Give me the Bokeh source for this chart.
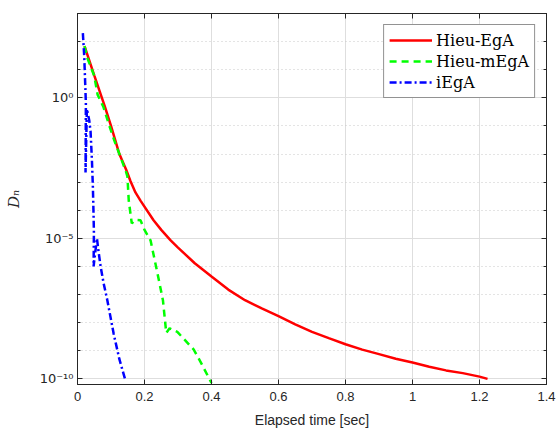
from bokeh.plotting import figure
from bokeh.models import (FixedTicker, LinearAxis, LogAxis, Legend, LegendItem, Range1d)
from bokeh.embed import file_html
from bokeh.resources import INLINE

# ---- data ----
red_t = [0.021, 0.05, 0.081, 0.10, 0.125, 0.145, 0.158, 0.173, 0.188, 0.227, 0.25, 0.278,
         0.30, 0.35, 0.40, 0.45, 0.50, 0.55, 0.60, 0.65, 0.70, 0.75, 0.80, 0.85, 0.90,
         0.95, 1.00, 1.05, 1.10, 1.15, 1.20, 1.224]
red_y = [6.9e1, 6.3, 5.2e-1, 1.0e-1, 1.0e-2, 2.8e-3, 1.1e-3, 4.3e-4, 2.2e-4, 4.4e-5, 2.0e-5, 8.5e-6,
         4.7e-6, 1.3e-6, 4.4e-7, 1.5e-7, 6.3e-8, 3.2e-8, 1.7e-8, 8.7e-9, 4.7e-9, 2.8e-9, 1.7e-9, 1.1e-9, 7.6e-10,
         5.2e-10, 3.8e-10, 2.7e-10, 2.0e-10, 1.6e-10, 1.2e-10, 1.0e-10]

green_t = [0.021, 0.03, 0.05, 0.06, 0.078, 0.093, 0.11, 0.125, 0.144, 0.149, 0.153, 0.162, 0.172,
           0.188, 0.20, 0.218, 0.238, 0.255, 0.265, 0.275, 0.298, 0.347, 0.37, 0.40]
green_y = [6.9e1, 2.5e1, 6.0, 1.3, 4.5e-1, 1.2e-1, 3.0e-2, 1.0e-2, 2.5e-3, 1.6e-3, 2.2e-4, 3.4e-5, 4.5e-5,
           4.4e-5, 2.0e-5, 8.5e-6, 6.3e-7, 6.3e-8, 4.3e-9, 6.3e-9, 4.7e-9, 1.1e-9, 3.5e-10, 7.1e-11]

blue_t = [0.016, 0.020, 0.023, 0.025, 0.024, 0.028, 0.035, 0.039, 0.043, 0.046, 0.048, 0.049, 0.048,
          0.058, 0.062, 0.069, 0.078, 0.089, 0.108, 0.125, 0.143]
blue_y = [2.0e2, 3.2e1, 3.2, 6.3e-1, 2.2e-3, 4.0e-1, 1.6e-1, 6.3e-2, 6.3e-3, 6.3e-4, 6.3e-5, 1.6e-5, 1.0e-6,
          1.0e-5, 4.0e-6, 1.0e-6, 2.5e-7, 6.3e-8, 4.0e-9, 5.0e-10, 8.9e-11]

series_names = ["Hieu-EgA", "Hieu-mEgA", "iEgA"]
x_ticks = [0, 0.2, 0.4, 0.6, 0.8, 1.0, 1.2, 1.4]
x_tick_labels = ["0", "0.2", "0.4", "0.6", "0.8", "1", "1.2", "1.4"]
y_ticks = [1e-10, 1e-5, 1e0]
y_tick_labels = ["10\u207b\u00b9\u2070", "10\u207b\u2075", "10\u2070"]
y_minor = [10.0 ** k for k in range(-10, 4)]

AX = "#262626"

p = figure(width=558, height=432, y_axis_type="log",
           x_range=Range1d(0, 1.4), y_range=Range1d(6.3e-11, 1e3),
           output_backend="svg", toolbar_location=None,
           min_border_left=77, min_border_right=12, min_border_top=13, min_border_bottom=48)
p.background_fill_color = "white"
p.border_fill_color = "white"
p.outline_line_color = AX
p.outline_line_width = 1

xt = FixedTicker(ticks=x_ticks, minor_ticks=[])
yt = FixedTicker(ticks=y_ticks, minor_ticks=y_minor)

xa = p.xaxis[0]
xa.ticker = xt
xa.major_label_overrides = {t: l for t, l in zip(x_ticks, x_tick_labels)}
ya = p.yaxis[0]
ya.ticker = yt
ya.major_label_overrides = {t: l for t, l in zip(y_ticks, y_tick_labels)}

for ax in (xa, ya):
    ax.axis_line_color = AX
    ax.major_tick_line_color = AX
    ax.minor_tick_line_color = AX
    ax.major_tick_in = 5
    ax.major_tick_out = 0
    ax.minor_tick_in = 3
    ax.minor_tick_out = 0
    ax.major_label_text_color = AX
    ax.major_label_text_font = "Liberation Sans"
    ax.major_label_text_font_size = "13px"
    ax.axis_label_text_color = AX
    ax.axis_label_text_font_style = "normal"

ya.major_label_text_font = "DejaVu Sans"
ya.major_label_text_font_size = "13px"

xa.axis_label = "Elapsed time [sec]"
xa.axis_label_text_font = "Liberation Sans"
xa.axis_label_text_font_size = "14px"
xa.major_label_standoff = 7
xa.axis_label_standoff = 8

ya.axis_label = "D\u2099"
ya.axis_label_text_font = "DejaVu Serif"
ya.axis_label_text_font_style = "italic"
ya.axis_label_text_font_size = "15px"
ya.major_label_standoff = 4
ya.axis_label_standoff = 14

# box axes (top / right) with ticks only
top = LinearAxis(ticker=FixedTicker(ticks=x_ticks, minor_ticks=[]),
                 major_label_text_font_size="1px", major_label_text_alpha=0,
                 major_label_standoff=0,
                 axis_line_color=AX, major_tick_line_color=AX,
                 major_tick_in=5, major_tick_out=0, minor_tick_line_color=None)
p.add_layout(top, "above")
right = LogAxis(ticker=FixedTicker(ticks=y_ticks, minor_ticks=y_minor),
                major_label_text_font_size="1px", major_label_text_alpha=0,
                major_label_standoff=0,
                axis_line_color=AX, major_tick_line_color=AX, minor_tick_line_color=AX,
                major_tick_in=5, major_tick_out=0, minor_tick_in=3, minor_tick_out=0)
p.add_layout(right, "right")

# grids
p.xgrid.grid_line_color = "#dedede"
p.xgrid.grid_line_width = 1
p.ygrid.grid_line_color = "#dedede"
p.ygrid.grid_line_width = 1
p.ygrid.minor_grid_line_color = "#c8c8c8"
p.ygrid.minor_grid_line_dash = "1 3"
p.ygrid.minor_grid_line_width = 1

r1 = p.line(red_t, red_y, line_color="#ff0000", line_width=2.5)
r2 = p.line(green_t, green_y, line_color="#00ff00", line_width=2.5, line_dash="7 5")
r3 = p.line(blue_t, blue_y, line_color="#0000ff", line_width=2.5, line_dash="7 3 2 3")

legend = Legend(items=[LegendItem(label=series_names[0], renderers=[r1]),
                       LegendItem(label=series_names[1], renderers=[r2]),
                       LegendItem(label=series_names[2], renderers=[r3])],
                location="top_right")
legend.label_text_font = "DejaVu Serif"
legend.label_text_font_size = "16px"
legend.label_text_color = "black"
legend.glyph_width = 43
legend.glyph_height = 20
legend.label_height = 20
legend.label_standoff = 4
legend.padding = 5
legend.spacing = 1
legend.margin = 11
legend.border_line_color = AX
legend.border_line_width = 1
legend.background_fill_color = "white"
legend.background_fill_alpha = 1
p.add_layout(legend)

open("out.html", "w").write(file_html(p, INLINE))
